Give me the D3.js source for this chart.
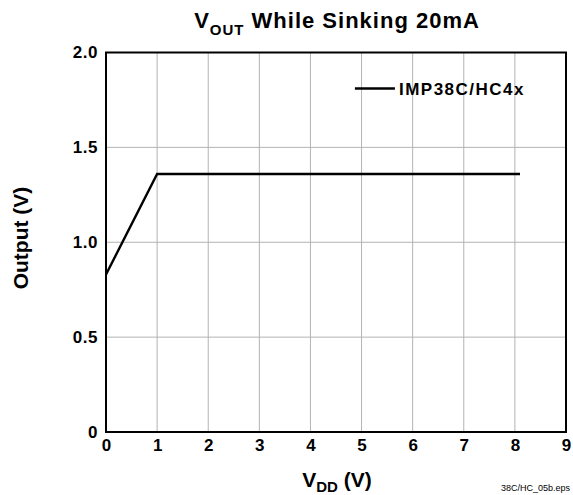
<!DOCTYPE html>
<html>
<head>
<meta charset="utf-8">
<script src="https://cdn.jsdelivr.net/npm/d3@7"></script>
<style>
  body { margin: 0; background: #fff; }
  svg text { font-family: "Liberation Sans", Arial, Helvetica, sans-serif; font-weight: bold; }
</style>
</head>
<body>
<svg id="chart" width="573" height="495"></svg>
<script>
// Data
const vdd = [0, 1, 8.1];
const vout = [0.83, 1.36, 1.36];
const xTicks = [0, 1, 2, 3, 4, 5, 6, 7, 8, 9];
const yTicks = [0, 0.5, 1.0, 1.5, 2.0];
const seriesName = 'IMP38C/HC4x';

const margin = { top: 52.5, right: 7, bottom: 63, left: 106 };
const width = 573 - margin.left - margin.right;
const height = 495 - margin.top - margin.bottom;

const svg = d3.select('#chart');
const g = svg.append('g').attr('transform', `translate(${margin.left},${margin.top})`);

const xScale = d3.scaleLinear().domain([0, 9]).range([0, width]);
const yScale = d3.scaleLinear().domain([0, 2]).range([height, 0]);

// Grid
g.append('g').selectAll('line').data(xTicks.slice(1, -1)).enter().append('line')
    .attr('x1', d => xScale(d)).attr('x2', d => xScale(d))
    .attr('y1', 0).attr('y2', height)
    .attr('stroke', '#b3b3b3').attr('stroke-width', 1);
g.append('g').selectAll('line').data(yTicks.slice(1, -1)).enter().append('line')
    .attr('x1', 0).attr('x2', width)
    .attr('y1', d => yScale(d)).attr('y2', d => yScale(d))
    .attr('stroke', '#b3b3b3').attr('stroke-width', 1);

// Frame
g.append('rect').attr('x', 0).attr('y', 0).attr('width', width).attr('height', height)
    .attr('fill', 'none').attr('stroke', '#000').attr('stroke-width', 2);

// Axes (labels only)
const xAxis = d3.axisBottom(xScale).tickValues(xTicks).tickSize(0).tickPadding(7).tickFormat(d3.format('d'));
const yAxis = d3.axisLeft(yScale).tickValues(yTicks).tickSize(0).tickPadding(8)
    .tickFormat(d => d === 0 ? '0' : d3.format('.1f')(d));

g.append('g').attr('transform', `translate(0,${height})`).call(xAxis)
    .call(a => a.select('.domain').remove())
    .selectAll('text').attr('font-size', 17).attr('fill', '#000');
g.append('g').call(yAxis)
    .call(a => a.select('.domain').remove())
    .selectAll('text').attr('font-size', 17).attr('fill', '#000').attr('letter-spacing', 0.5);

// Series
const line = d3.line().x((d, i) => xScale(vdd[i])).y(d => yScale(d));
g.append('path').datum(vout).attr('fill', 'none').attr('stroke', '#000')
    .attr('stroke-width', 2.4).attr('d', line);

// Legend
const leg = g.append('g').attr('transform', `translate(${xScale(4.87)},${yScale(1.81)})`);
leg.append('line').attr('x1', 0).attr('x2', 40).attr('y1', 0).attr('y2', 0)
    .attr('stroke', '#000').attr('stroke-width', 2.4);
leg.append('text').attr('x', 44).attr('y', 6.5).attr('font-size', 17)
    .attr('letter-spacing', 1.5).text(seriesName);

// Title
const title = svg.append('text').attr('x', 337).attr('y', 28).attr('text-anchor', 'middle')
    .attr('font-size', 22).attr('letter-spacing', 1);
title.append('tspan').text('V');
title.append('tspan').attr('font-size', 15).attr('dy', 7).text('OUT');
title.append('tspan').attr('dy', -7).text(' While Sinking 20mA');

// X label
const xl = svg.append('text').attr('x', 337).attr('y', 487).attr('text-anchor', 'middle').attr('font-size', 21);
xl.append('tspan').text('V');
xl.append('tspan').attr('font-size', 15).attr('dy', 5).text('DD');
xl.append('tspan').attr('dy', -5).text(' (V)');

// Y label
svg.append('text').attr('transform', 'translate(28,238) rotate(-90)')
    .attr('text-anchor', 'middle').attr('font-size', 21).text('Output (V)');

// File tag
svg.append('text').attr('x', 501).attr('y', 491).attr('font-size', 9)
    .style('font-weight', 'normal').text('38C/HC_05b.eps');
</script>
</body>
</html>
